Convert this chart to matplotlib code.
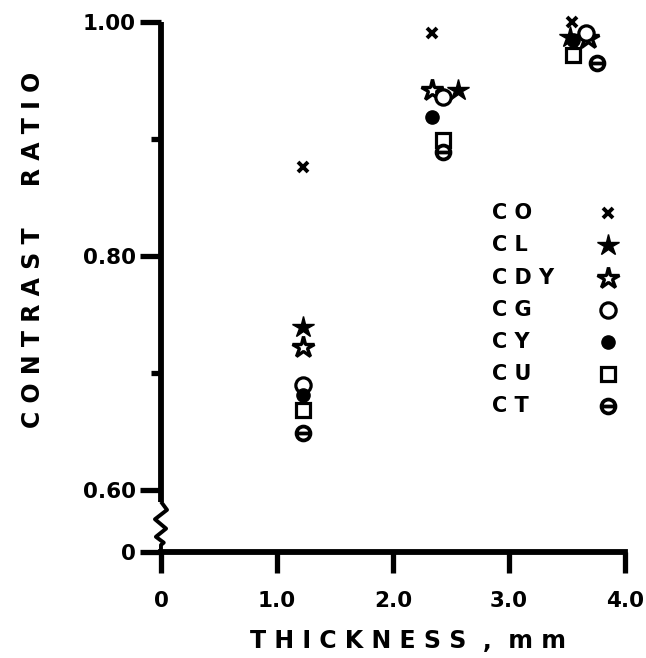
import matplotlib.pyplot as plt
from matplotlib.path import Path
from matplotlib.transforms import blended_transform_factory

plt.rcParams['font.family'] = ['DejaVu Sans']
plt.rcParams['font.weight'] = 'bold'

# contrast ratio vs. thickness
series = ['CO', 'CL', 'CDY', 'CG', 'CY', 'CU', 'CT']
thickness = {
    'CO':  [1.22, 2.34, 3.54],
    'CL':  [1.22, 2.56, 3.53],
    'CDY': [1.22, 2.34, 3.68],
    'CG':  [1.22, 2.43, 3.66],
    'CY':  [1.22, 2.34, 3.55],
    'CU':  [1.22, 2.43, 3.55],
    'CT':  [1.22, 2.43, 3.76],
}
contrast = {
    'CO':  [0.876, 0.991, 1.000],
    'CL':  [0.739, 0.942, 0.987],
    'CDY': [0.722, 0.942, 0.986],
    'CG':  [0.690, 0.936, 0.991],
    'CY':  [0.681, 0.919, 0.985],
    'CU':  [0.668, 0.899, 0.972],
    'CT':  [0.649, 0.889, 0.965],
}
xticks = [0, 1, 2, 3, 4]
xticklabels = ['0', '1.0', '2.0', '3.0', '4.0']
yticks = [0.60, 0.80, 1.00]
yticklabels = ['0.60', '0.80', '1.00']
yminor = [0.70, 0.90]

# broken axis: the "0" sits just below 0.60
y_zero_pos = 0.547

theta = Path.make_compound_path(Path.unit_circle(),
                                Path([[-1, 0], [1, 0]], [Path.MOVETO, Path.LINETO]))
styles = {
    'CO':  dict(marker='x', ms=7, mew=2.8, color='black'),
    'CL':  dict(marker='*', ms=16, color='black', mec='black'),
    'CDY': dict(marker='*', ms=16, mfc='white', mec='black', mew=2.4),
    'CG':  dict(marker='o', ms=11, mfc='white', mec='black', mew=2.3),
    'CY':  dict(marker='o', ms=9.5, color='black'),
    'CU':  dict(marker='s', ms=9.5, mfc='white', mec='black', mew=2.3),
    'CT':  dict(marker=theta, ms=10, mfc='white', mec='black', mew=2.7),
}

fig = plt.figure(figsize=(6.46, 6.58), dpi=100)
ax = fig.add_axes([0.2492, 0.1611, 0.7183, 0.8055])

for s in series:
    ax.plot(thickness[s], contrast[s], linestyle='none', clip_on=False, **styles[s])

ax.set_xlim(0, 4)
ax.set_ylim(y_zero_pos, 1.0)

for side in ['top', 'right']:
    ax.spines[side].set_visible(False)
ax.spines['left'].set_linewidth(4.2)
ax.spines['bottom'].set_linewidth(4.2)
ax.spines['left'].set_bounds(0.59, 1.0)
ax.spines['left'].set_capstyle('butt')

ax.set_xticks(xticks)
ax.set_xticklabels(xticklabels)
ax.set_yticks([y_zero_pos] + yticks)
ax.set_yticklabels(['0'] + yticklabels)
ax.set_yticks(yminor, minor=True)
ax.tick_params(axis='both', which='major', direction='out', length=15, width=3.8,
               labelsize=15.5, pad=3)
ax.tick_params(axis='x', which='major', pad=13)
ax.tick_params(axis='y', which='minor', direction='out', length=7, width=3.8)
for lab in ax.get_xticklabels() + ax.get_yticklabels():
    lab.set_fontweight('bold')

# zigzag break on the y axis
tr = blended_transform_factory(ax.transAxes, ax.transData)
zx = [0, 0.013, -0.013, 0.011, -0.011, 0.006, 0, 0]
zy = [0.59, 0.583, 0.575, 0.567, 0.560, 0.555, 0.553, y_zero_pos]
ax.plot(zx, zy, color='black', lw=2.8, transform=tr, clip_on=False,
        solid_capstyle='butt')

ax.set_xlabel('T H I C K N E S S  ,  m m', fontsize=17, fontweight='bold')
ax.xaxis.set_label_coords(0.532, -0.145)
ax.set_ylabel('C O N T R A S T     R A T I O', fontsize=17, fontweight='bold')
ax.yaxis.set_label_coords(-0.25, 0.57)

# legend: labels left aligned, markers in a column on the right
row_y = [213, 245, 278, 310, 342, 374, 406]
for s, py in zip(series, row_y):
    yf = (552 - py) / 530
    ax.text((492 - 161) / 464, yf, ' '.join(s), transform=ax.transAxes,
            fontsize=15, fontweight='bold', va='center', ha='left')
    ax.plot([(608 - 161) / 464], [yf], transform=ax.transAxes, linestyle='none',
            clip_on=False, **styles[s])

fig.savefig('out.png', dpi=100)
